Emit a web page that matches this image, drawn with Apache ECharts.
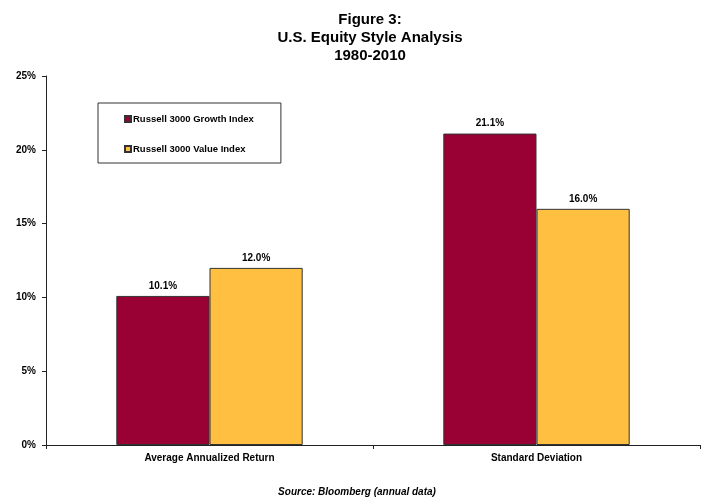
<!DOCTYPE html>
<html><head><meta charset="utf-8">
<script src="https://cdn.jsdelivr.net/npm/echarts@6/dist/echarts.min.js"></script>
<style>html,body{margin:0;padding:0;background:#fff}#c{width:706px;height:497px}</style>
</head><body><div id="c"></div>
<script>
var categories = ['Average Annualized Return', 'Standard Deviation'];
var growth = [10.1, 21.1];
var value = [12.0, 16.0];
var yTicks = [0, 5, 10, 15, 20, 25];
var seriesNames = ['Russell 3000 Growth Index', 'Russell 3000 Value Index'];

var chart = echarts.init(document.getElementById('c'));
var F = 'Arial, "Liberation Sans", sans-serif';
chart.setOption({
  animation: false,
  title: [{
    text: 'Figure 3:\nU.S. Equity Style Analysis\n1980-2010',
    left: 365, top: 6, textAlign: 'center',
    textStyle: {fontFamily: F, fontSize: 15, fontWeight: 'bold', color: '#000', lineHeight: 18}
  }, {
    text: 'Source: Bloomberg (annual data)',
    left: 352, top: 482, textAlign: 'center',
    textStyle: {fontFamily: F, fontSize: 10, fontWeight: 'bold', fontStyle: 'italic', color: '#000'}
  }],
  legend: {
    orient: 'vertical', left: 98, top: 103,
    padding: [11, 27, 9, 26], itemGap: 20,
    borderColor: '#333', borderWidth: 1, backgroundColor: '#fff',
    itemWidth: 6, itemHeight: 6, icon: 'rect',
    textStyle: {fontFamily: F, fontSize: 9.5, fontWeight: 'bold', color: '#000', padding: [0, 0, 0, -3]},
    data: seriesNames
  },
  grid: {left: 46, right: 6, top: 76, bottom: 52, containLabel: false},
  xAxis: {
    type: 'category', data: categories,
    axisLine: {lineStyle: {color: '#222', width: 1}},
    axisTick: {show: true, length: 4, lineStyle: {color: '#222'}},
    axisLabel: {fontFamily: F, fontSize: 10, fontWeight: 'bold', color: '#000', margin: 8}
  },
  yAxis: {
    type: 'value', min: yTicks[0], max: yTicks[yTicks.length - 1], interval: 5,
    axisLine: {show: true, lineStyle: {color: '#222', width: 1}},
    axisTick: {show: true, length: 4, lineStyle: {color: '#222'}},
    splitLine: {show: false},
    axisLabel: {fontFamily: F, fontSize: 10, fontWeight: 'bold', color: '#000', margin: 10,
      formatter: function (v) { return v + '%'; }}
  },
  series: [{
    name: seriesNames[0], type: 'bar', data: growth,
    barGap: '0%', barCategoryGap: '43%',
    itemStyle: {color: '#990033', borderColor: '#333', borderWidth: 1},
    label: {show: true, position: 'top', distance: 5, fontFamily: F, fontSize: 10, fontWeight: 'bold', color: '#000',
      formatter: function (p) { return p.value.toFixed(1) + '%'; }}
  }, {
    name: seriesNames[1], type: 'bar', data: value,
    itemStyle: {color: '#FFC042', borderColor: '#333', borderWidth: 1},
    label: {show: true, position: 'top', distance: 5, fontFamily: F, fontSize: 10, fontWeight: 'bold', color: '#000',
      formatter: function (p) { return p.value.toFixed(1) + '%'; }}
  }]
});
</script></body></html>
